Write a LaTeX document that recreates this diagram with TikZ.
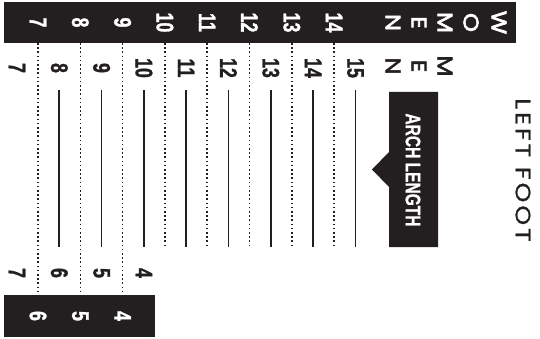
\documentclass[tikz,border=0pt]{standalone}
\usepackage{fontspec}
\setmainfont{Liberation Sans}
\newfontfamily\numfont{Liberation Sans}[FakeStretch=0.74, FakeBold=1.2]
\newfontfamily\archfont{Liberation Sans}[FakeStretch=0.74, FakeBold=0.8]
\newfontfamily\geofont{Poppins}[FakeBold=3, FakeStretch=1.15]
\newfontfamily\geofontsp{Poppins}[LetterSpace=14, FakeBold=1, FakeStretch=1.2]
\definecolor{ink}{HTML}{231F20}
\tikzset{
  num/.style={rotate=-90, inner sep=0pt, font=\numfont\bfseries\fontsize{24}{24}\selectfont},
  topnum/.style={num, text=white},
  rownum/.style={num, text=ink},
  letter/.style={rotate=-90, inner sep=0pt, font=\geofont\fontsize{21}{21}\selectfont},
  dotline/.style={draw=ink, line width=1.6pt, dash pattern=on 1.6pt off 2.6pt},
  rule/.style={draw=ink, line width=1.6pt},
}
\begin{document}
\begin{tikzpicture}[x=1pt,y=-1pt]
\useasboundingbox (0,0) rectangle (540,339);
% top bar
\fill[ink] (4,2) rectangle (516,43);
% bottom box
\fill[ink] (4,295) rectangle (155,337);
% dotted lines
\foreach \i in {0,1,2} {
  \coordinate (da\i) at ({38+42.3*\i},43);
  \coordinate (db\i) at ({38+42.3*\i},295);
  \draw[dotline] (da\i) -- (db\i);
}
\foreach \i in {3,...,7} {
  \coordinate (da\i) at ({38+42.3*\i},43);
  \coordinate (db\i) at ({38+42.3*\i},247);
  \draw[dotline] (da\i) -- (db\i);
}
% solid lines
\foreach \i in {0,...,7} {
  \coordinate (sa\i) at ({59.2+42.3*\i},90);
  \coordinate (sb\i) at ({59.2+42.3*\i},247);
  \draw[rule] (sa\i) -- (sb\i);
}
% top numbers
\foreach \n [count=\i from 0] in {7,...,14}
  \node[topnum] (t\n) at ({38+42.3*\i},22.5) {\n};
% second row numbers
\foreach \n [count=\i from 0] in {7,...,15}
  \node[rownum] (r\n) at ({17+42.3*\i},68) {\n};
% bottom row numbers
\foreach \n [count=\i from 0] in {7,6,5,4}
  \node[rownum] (b\n) at ({17+42.3*\i},273) {\n};
% bottom box numbers
\foreach \n [count=\i from 0] in {6,5,4}
  \node[topnum] (bb\n) at ({38+42.3*\i},316) {\n};
% WOMEN
\node[letter, text=white] (wN) at (393,22.5) {N};
\node[letter, text=white] (wE) at (419,22.5) {E};
\node[letter, text=white] (wM) at (445,22.5) {M};
\node[letter, text=white] (wO) at (471,22.5) {O};
\node[letter, text=white] (wW) at (499,22.5) {W};
% MEN
\node[letter, text=ink] (mN) at (393,66) {N};
\node[letter, text=ink] (mE) at (419,66) {E};
\node[letter, text=ink] (mM) at (445,66) {M};
% arch length tag
\fill[ink] (389,92) -- (438,92) -- (438,247) -- (389,247) -- (389,187) -- (372,169.5) -- (389,152) -- cycle;
\node[rotate=-90, inner sep=0pt, text=white, font=\archfont\bfseries\fontsize{21}{21}\selectfont] (arch) at (413,170) {ARCH LENGTH};
% left foot
\node[rotate=-90, inner sep=0pt, text=ink, font=\geofontsp\fontsize{21}{21}\selectfont] (lf) at (523,170) {LEFT FOOT};
\end{tikzpicture}
\end{document}
